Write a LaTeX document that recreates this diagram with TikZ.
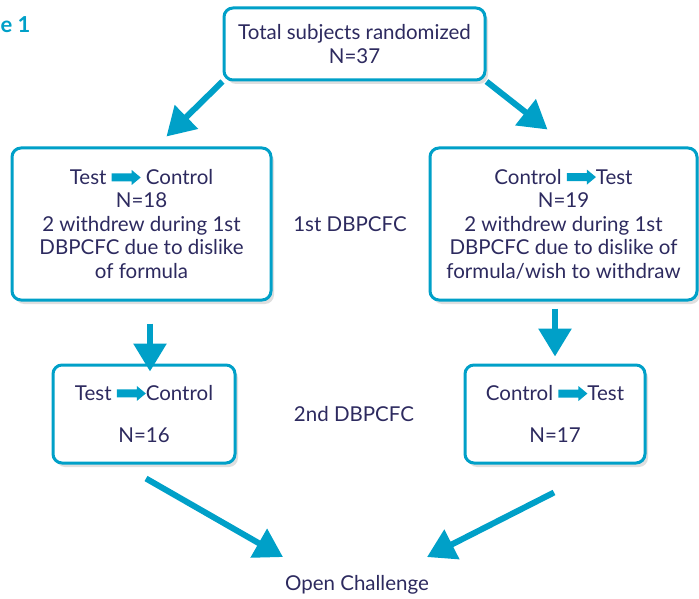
\documentclass[tikz,border=0pt]{standalone}
\usepackage{fontspec}
\setmainfont{Lato}
\usetikzlibrary{arrows.meta,shadows}
\definecolor{flowblue}{RGB}{0,160,200}
\definecolor{flowtext}{RGB}{45,42,95}
\newcommand{\swaparrow}{\tikz[x=1pt, y=1pt, sharp corners, baseline=-7pt]\fill[flowblue] (0,-4) -- (20,-4) -- (20,-7.5) -- (29,0) -- (20,7.5) -- (20,4) -- (0,4) -- cycle;}
\begin{document}
\begin{tikzpicture}[x=1pt, y=-1pt,
    every node/.style={text=flowtext, font=\fontsize{20.5}{23.5}\selectfont},
    flowbox/.style={draw=flowblue, line width=3pt, rounded corners=9pt, fill=white, align=center, inner sep=0pt,
        drop shadow={opacity=0.25, shadow xshift=3pt, shadow yshift=-4pt}},
    bigarrow/.style={draw=flowblue, line width=6pt, -{Triangle[length=28pt,width=32pt]}}]
    \useasboundingbox (0,0) rectangle (699,599);
    \node [text=flowblue, font=\fontsize{22}{24}\selectfont\bfseries] (fig) at (15.5,25) {e 1};

    \node [flowbox, minimum width=261pt, minimum height=72pt] (total) at (354.5,44) {Total subjects randomized\\N=37};
    \node [flowbox, minimum width=259pt, minimum height=152pt] (testctrl) at (141.5,224) {Test \swaparrow\ Control\\N=18\\2 withdrew during 1st\\DBPCFC due to dislike\\of formula};
    \node [flowbox, minimum width=267pt, minimum height=152pt] (ctrltest) at (563.5,224) {Control \swaparrow Test\\N=19\\2 withdrew during 1st\\DBPCFC due to dislike of\\formula/wish to withdraw};
    \node [flowbox, minimum width=182pt, minimum height=98pt] (testctrl2) at (144,414) {Test \swaparrow Control\\[18.5pt]N=16};
    \node [flowbox, minimum width=180pt, minimum height=98pt] (ctrltest2) at (555,414) {Control \swaparrow Test\\[18.5pt]N=17};

    \node (first) at (350,224) {1st DBPCFC};
    \node (second) at (354,414) {2nd DBPCFC};
    \node (open) at (357,585) {Open Challenge};

    \path [bigarrow] (total.south west) -- ([xshift=25pt,yshift=10pt]testctrl.north);
    \path [bigarrow] (total.south east) -- ([xshift=-16pt,yshift=17pt]ctrltest.north);
    \path [bigarrow] ([xshift=8.5pt,yshift=-22pt]testctrl.south) -- ([xshift=6pt,yshift=-8pt]testctrl2.north);
    \path [bigarrow] ([xshift=-8.5pt,yshift=-7pt]ctrltest.south) -- ([yshift=7pt]ctrltest2.north);
    \path [bigarrow] ([xshift=2pt,yshift=-14pt]testctrl2.south) -- ([xshift=-74pt,yshift=15pt]open.north);
    \path [bigarrow] ([xshift=-1pt,yshift=-28pt]ctrltest2.south) -- ([xshift=70pt,yshift=15pt]open.north);
\end{tikzpicture}
\end{document}
